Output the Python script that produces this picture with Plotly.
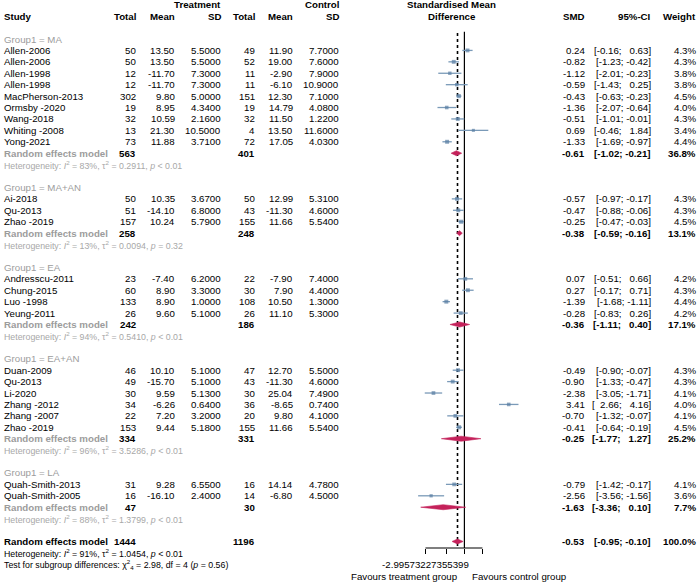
import plotly.graph_objects as go

# ---------------- data ----------------
group_names = ["MA", "MA+AN", "EA", "EA+AN", "LA"]

study_group = ["MA"] * 9 + ["MA+AN"] * 3 + ["EA"] * 4 + ["EA+AN"] * 6 + ["LA"] * 2
study = ["Allen-2006", "Allen-2006", "Allen-1998", "Allen-1998", "MacPherson-2013", "Ormsby -2020",
         "Wang-2018", "Whiting -2008", "Yong-2021",
         "Ai-2018", "Qu-2013", "Zhao -2019",
         "Andresscu-2011", "Chung-2015", "Luo -1998", "Yeung-2011",
         "Duan-2009", "Qu-2013", "Li-2020", "Zhang -2012", "Zhang -2007", "Zhao -2019",
         "Quah-Smith-2013", "Quah-Smith-2005"]
n_t = [50, 50, 12, 12, 302, 19, 32, 13, 73, 50, 51, 157, 23, 60, 133, 26, 46, 49, 30, 34, 22, 153, 31, 16]
mean_t = [13.50, 13.50, -11.70, -11.70, 9.80, 8.95, 10.59, 21.30, 11.88, 10.35, -14.10, 10.24,
          -7.40, 8.90, 8.90, 9.60, 10.10, -15.70, 9.59, -6.26, 7.20, 9.44, 9.28, -16.10]
sd_t = [5.5, 5.5, 7.3, 7.3, 5.0, 4.34, 2.16, 10.5, 3.71, 3.67, 6.8, 5.79,
        6.2, 3.3, 1.0, 5.1, 5.1, 5.1, 5.13, 0.64, 3.2, 5.18, 6.55, 2.4]
n_c = [49, 52, 11, 11, 151, 19, 32, 4, 72, 50, 43, 155, 22, 30, 108, 26, 47, 43, 30, 36, 20, 155, 16, 14]
mean_c = [11.90, 19.00, -2.90, -6.10, 12.30, 14.79, 11.50, 13.50, 17.05, 12.99, -11.30, 11.66,
          -7.90, 7.90, 10.50, 11.10, 12.70, -11.30, 25.04, -8.65, 9.80, 11.66, 14.14, -6.80]
sd_c = [7.7, 7.6, 7.9, 10.9, 7.1, 4.08, 1.22, 11.6, 4.03, 5.31, 4.6, 5.54,
        7.4, 4.4, 1.3, 5.3, 5.5, 4.6, 7.49, 0.74, 4.1, 5.54, 4.78, 4.5]
smd = [0.24, -0.82, -1.12, -0.59, -0.43, -1.36, -0.51, 0.69, -1.33, -0.57, -0.47, -0.25,
       0.07, 0.27, -1.39, -0.28, -0.49, -0.90, -2.38, 3.41, -0.70, -0.41, -0.79, -2.56]
ci_lo = [-0.16, -1.23, -2.01, -1.43, -0.63, -2.07, -1.01, -0.46, -1.69, -0.97, -0.88, -0.47,
         -0.51, -0.17, -1.68, -0.83, -0.90, -1.33, -3.05, 2.66, -1.32, -0.64, -1.42, -3.56]
ci_hi = [0.63, -0.42, -0.23, 0.25, -0.23, -0.64, -0.01, 1.84, -0.97, -0.17, -0.06, -0.03,
         0.66, 0.71, -1.11, 0.26, -0.07, -0.47, -1.71, 4.16, -0.07, -0.19, -0.17, -1.56]
weight = [4.3, 4.3, 3.8, 3.8, 4.5, 4.0, 4.3, 3.4, 4.4, 4.3, 4.3, 4.5,
          4.2, 4.3, 4.4, 4.2, 4.3, 4.3, 4.1, 4.0, 4.1, 4.5, 4.1, 3.6]

grp_n_t = [563, 258, 242, 334, 47]
grp_n_c = [401, 248, 186, 331, 30]
grp_smd = [-0.61, -0.38, -0.36, -0.25, -1.63]
grp_lo = [-1.02, -0.59, -1.11, -1.77, -3.36]
grp_hi = [-0.21, -0.16, 0.40, 1.27, 0.10]
grp_weight = [36.8, 13.1, 17.1, 25.2, 7.7]
grp_i2 = [83, 13, 94, 96, 88]
grp_tau2 = ["0.2911", "0.0094", "0.5410", "3.5286", "1.3799"]
grp_p = ["&lt; 0.01", "= 0.32", "&lt; 0.01", "&lt; 0.01", "&lt; 0.01"]

overall_n_t = 1444
overall_n_c = 1196
overall_smd = -0.53
overall_lo = -0.95
overall_hi = -0.10
overall_weight = 100.0
overall_i2 = 91
overall_tau2 = "1.0454"
overall_p = "&lt; 0.01"
subgroup_chi2 = 2.98
subgroup_df = 4
subgroup_p = 0.56

tick_vals = [-2.99573227355399, -1.38629436111989, 0.0, 1.38629436111989]
tick_text = ["-2.99573227355399", "", "", ""]

# ---------------- layout constants ----------------
W, H = 700, 585
ROW0_PX, ROW_STEP = 39.0, 11.42
ZERO_PX, PX_PER_UNIT = 464.4, 13.0
AXIS_PX = 548.0

FONT = "Liberation Sans, Arial, sans-serif"
FS = 9.7
FS_HET = 8.8
GRAY = "#9c9c9c"
HET_GRAY = "#a8a8a8"
LINE_COL = "#7a9ab8"
SQ_COL = "#587ea3"
DIA_COL = "#c4215a"

col_px = {"n_t": 137.3, "mean_t": 175.7, "sd_t": 221.7, "n_c": 256.0, "mean_c": 294.0,
          "sd_c": 340.0, "smd": 586.0, "ci": 652.0, "w": 696.7}
STUDY_PX = 2.5
HEAD_CENTER_PX = 451.7


def px_row(px):
    return (px - ROW0_PX) / ROW_STEP


def fmt_ci(lo, hi):
    def f(v):
        s = f"{v:.2f}"
        return s if v < 0 else "\u00a0\u00a0" + s
    return f"[{f(lo)};\u00a0{f(hi)}]"


annotations = []


def txt(px, row, text, anchor="right", bold=False, color="black", size=FS):
    if bold:
        text = f"<b>{text}</b>"
    annotations.append(dict(x=px / W, xref="paper", y=row, yref="y", text=text, showarrow=False,
                            xanchor=anchor, yanchor="middle", borderpad=0,
                            font=dict(family=FONT, size=size, color=color)))


# headers
txt(col_px["sd_t"], -3, "Treatment", bold=True)
txt(col_px["sd_c"], -3, "Control", bold=True)
txt(HEAD_CENTER_PX, -3, "Standardised Mean", anchor="center", bold=True)
txt(HEAD_CENTER_PX, -2, "Difference", anchor="center", bold=True)
txt(STUDY_PX, -2, "Study", anchor="left", bold=True)
for key, lab in [("n_t", "Total"), ("mean_t", "Mean"), ("sd_t", "SD"), ("n_c", "Total"),
                 ("mean_c", "Mean"), ("sd_c", "SD"), ("smd", "SMD"), ("ci", "95%-CI"), ("w", "Weight")]:
    txt(col_px[key], -2, lab, bold=True)

line_x, line_y, sq_x, sq_y, sq_s = [], [], [], [], []
diamonds = []

row = 0
for g, gname in enumerate(group_names):
    txt(STUDY_PX, row, f"Group1 = {gname}", anchor="left", color=GRAY)
    row += 1
    for i, s in enumerate(study):
        if study_group[i] != gname:
            continue
        txt(STUDY_PX, row, s, anchor="left")
        txt(col_px["n_t"], row, str(n_t[i]))
        txt(col_px["mean_t"], row, f"{mean_t[i]:.2f}")
        txt(col_px["sd_t"], row, f"{sd_t[i]:.4f}")
        txt(col_px["n_c"], row, str(n_c[i]))
        txt(col_px["mean_c"], row, f"{mean_c[i]:.2f}")
        txt(col_px["sd_c"], row, f"{sd_c[i]:.4f}")
        txt(col_px["smd"], row, f"{smd[i]:.2f}")
        txt(col_px["ci"], row, fmt_ci(ci_lo[i], ci_hi[i]))
        txt(col_px["w"], row, f"{weight[i]:.1f}%")
        line_x += [ci_lo[i], ci_hi[i], None]
        line_y += [row, row, None]
        sq_x.append(smd[i])
        sq_y.append(row)
        sq_s.append(weight[i] * 0.9)
        row += 1
    txt(STUDY_PX, row, "Random effects model", anchor="left", bold=True, color=GRAY)
    txt(col_px["n_t"], row, str(grp_n_t[g]), bold=True)
    txt(col_px["n_c"], row, str(grp_n_c[g]), bold=True)
    txt(col_px["smd"], row, f"{grp_smd[g]:.2f}", bold=True)
    txt(col_px["ci"], row, fmt_ci(grp_lo[g], grp_hi[g]), bold=True)
    txt(col_px["w"], row, f"{grp_weight[g]:.1f}%", bold=True)
    diamonds.append((grp_lo[g], grp_smd[g], grp_hi[g], row))
    row += 1
    txt(STUDY_PX, row, f"Heterogeneity: <i>I</i><sup>2</sup> = {grp_i2[g]}%, \u03c4<sup>2</sup> = "
                       f"{grp_tau2[g]}, <i>p</i> {grp_p[g]}", anchor="left", color=HET_GRAY, size=FS_HET)
    row += 2

# overall
txt(STUDY_PX, row, "Random effects model", anchor="left", bold=True)
txt(col_px["n_t"], row, str(overall_n_t), bold=True)
txt(col_px["n_c"], row, str(overall_n_c), bold=True)
txt(col_px["smd"], row, f"{overall_smd:.2f}", bold=True)
txt(col_px["ci"], row, fmt_ci(overall_lo, overall_hi), bold=True)
txt(col_px["w"], row, f"{overall_weight:.1f}%", bold=True)
diamonds.append((overall_lo, overall_smd, overall_hi, row))
row += 1
txt(STUDY_PX, row, f"Heterogeneity: <i>I</i><sup>2</sup> = {overall_i2}%, \u03c4<sup>2</sup> = "
                   f"{overall_tau2}, <i>p</i> {overall_p}", anchor="left", size=FS_HET)
row += 1
txt(STUDY_PX, row, f"Test for subgroup differences: \u03c7<sup>2</sup><sub>{subgroup_df}</sub> = "
                   f"{subgroup_chi2:.2f}, df = {subgroup_df} (<i>p</i> = {subgroup_p:.2f})",
    anchor="left", size=FS_HET)

# favours labels
fav_row = px_row(576.7)
txt(458.3, fav_row, "Favours treatment group", anchor="right")
txt(471.0, fav_row, "Favours control group", anchor="left")

axis_row = px_row(AXIS_PX)
top_solid = px_row(31.7)
top_dot = px_row(33.0)

fig = go.Figure()
# reference lines
fig.add_trace(go.Scatter(x=[overall_smd, overall_smd], y=[top_dot, axis_row], mode="lines",
                         line=dict(color="black", width=1.6, dash="dot"), hoverinfo="skip"))
fig.add_trace(go.Scatter(x=[0, 0], y=[top_solid, axis_row], mode="lines",
                         line=dict(color="black", width=1.2), hoverinfo="skip"))
# axis line
fig.add_trace(go.Scatter(x=[tick_vals[0], tick_vals[-1]], y=[axis_row, axis_row], mode="lines",
                         line=dict(color="black", width=1.2), hoverinfo="skip"))
# CI lines
fig.add_trace(go.Scatter(x=line_x, y=line_y, mode="lines", line=dict(color=LINE_COL, width=1.3),
                         hoverinfo="skip"))
# squares
fig.add_trace(go.Scatter(x=sq_x, y=sq_y, mode="markers",
                         marker=dict(symbol="square", size=sq_s, color=SQ_COL, line=dict(width=0)),
                         hoverinfo="skip"))
# diamonds
DH = 0.22
for lo, est, hi, r in diamonds:
    fig.add_trace(go.Scatter(x=[lo, est, hi, est, lo], y=[r, r - DH, r, r + DH, r], mode="lines",
                             fill="toself", fillcolor=DIA_COL, line=dict(color=DIA_COL, width=0.6),
                             hoverinfo="skip"))

fig.update_layout(
    width=W, height=H, autosize=False, showlegend=False,
    margin=dict(l=0, r=0, t=0, b=0),
    paper_bgcolor="white", plot_bgcolor="white",
    annotations=annotations,
    xaxis=dict(range=[-ZERO_PX / PX_PER_UNIT, (W - ZERO_PX) / PX_PER_UNIT], domain=[0, 1],
               showgrid=False, zeroline=False, showline=False,
               tickmode="array", tickvals=tick_vals, ticktext=tick_text,
               ticks="outside", ticklen=5, tickwidth=1.2, tickcolor="black",
               anchor="free", position=1 - AXIS_PX / H, side="bottom",
               tickfont=dict(family=FONT, size=FS, color="black"), ticklabelstandoff=2),
    yaxis=dict(range=[px_row(H), px_row(0)], domain=[0, 1], visible=False),
)

# remove the browser's default 8px body margin so the figure sits at the window's top-left
fig.write_html("out.html", config={"displayModeBar": False},
               post_script="document.body.style.margin='0';document.body.style.overflow='hidden';")
